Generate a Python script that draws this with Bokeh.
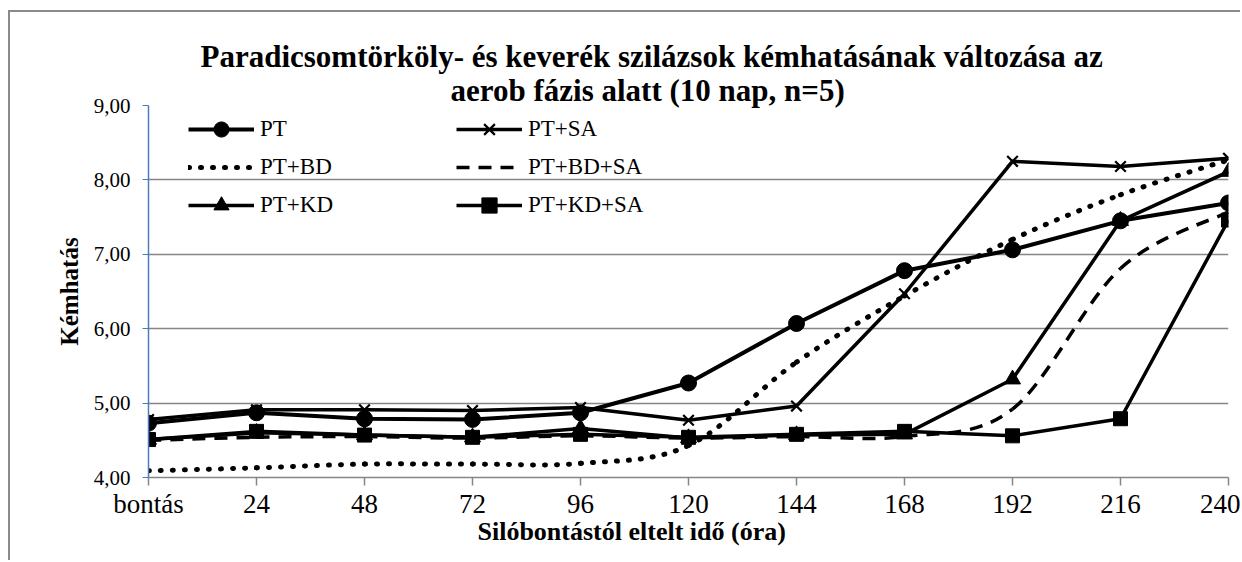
from bokeh.plotting import figure
from bokeh.models import Legend, LegendItem, Title, FixedTicker
from bokeh.embed import file_html
from bokeh.resources import INLINE
from bokeh.core.properties import value

# ---------------- data ----------------
hours = [0, 24, 48, 72, 96, 120, 144, 168, 192, 216, 240]
x_labels = ["bontás", "24", "48", "72", "96", "120", "144", "168", "192", "216", "240"]
y_ticks = [4, 5, 6, 7, 8, 9]

pt = [4.73, 4.87, 4.79, 4.78, 4.87, 5.27, 6.07, 6.78, 7.06, 7.45, 7.69]
pt_sa = [4.78, 4.91, 4.91, 4.90, 4.94, 4.77, 4.96, 6.47, 8.25, 8.18, 8.29]
pt_bd = [4.09, 4.13, 4.18, 4.18, 4.19, 4.43, 5.55, 6.44, 7.20, 7.80, 8.27]
pt_bd_sa = [4.50, 4.54, 4.55, 4.53, 4.56, 4.53, 4.55, 4.55, 4.92, 6.81, 7.57]
pt_kd = [4.51, 4.60, 4.57, 4.54, 4.66, 4.53, 4.57, 4.58, 5.32, 7.45, 8.11]
pt_kd_sa = [4.51, 4.62, 4.57, 4.54, 4.58, 4.54, 4.58, 4.62, 4.56, 4.79, 7.46]

title_1 = "Paradicsomtörköly- és keverék szilázsok kémhatásának változása az"
title_2 = "aerob fázis alatt (10 nap, n=5)"
x_title = "Silóbontástól eltelt idő (óra)"
y_title = "Kémhatás"

FONT = "Liberation Serif"
GRID = "#868686"
BLUE = "#4a7ebb"


def bezier_ctrl(xs, ys):
    """Control points for a smoothed (Excel-like) line through the data points."""
    n = len(xs)
    cx0, cy0, cx1, cy1 = [], [], [], []
    for i in range(n - 1):
        xm, ym = (xs[i - 1], ys[i - 1]) if i > 0 else (xs[i], ys[i])
        xp, yp = (xs[i + 2], ys[i + 2]) if i + 2 < n else (xs[i + 1], ys[i + 1])
        cx0.append(xs[i] + (xs[i + 1] - xm) / 6)
        cy0.append(ys[i] + (ys[i + 1] - ym) / 6)
        cx1.append(xs[i + 1] - (xp - xs[i]) / 6)
        cy1.append(ys[i + 1] - (yp - ys[i]) / 6)
    return dict(x0=xs[:-1], y0=ys[:-1], x1=xs[1:], y1=ys[1:],
                cx0=cx0, cy0=cy0, cx1=cx1, cy1=cy1)


p = figure(width=1232, height=550, output_backend="svg", toolbar_location=None,
           x_range=(0, 240), y_range=(4, 9),
           min_border_left=138, min_border_right=14, min_border_top=93, min_border_bottom=85,
           styles={"margin-left": "8px", "margin-top": "10px",
                   "border-left": "2px solid #8a8a8a", "border-top": "2px solid #8a8a8a"})
p.title = None
p.outline_line_color = None
p.background_fill_color = "white"
p.border_fill_color = "white"

# titles (line 2 is added first so it sits next to the plot area)
p.add_layout(Title(text=title_2, align="left", offset=302, standoff=-5,
                   text_font=FONT, text_font_size="31px", text_font_style="bold",
                   text_color="black"), "above")
p.add_layout(Title(text=title_1, align="left", offset=52, standoff=-1,
                   text_font=FONT, text_font_size="31px", text_font_style="bold",
                   text_color="black"), "above")

# grid
p.xgrid.grid_line_color = None
p.ygrid.grid_line_color = GRID
p.ygrid.grid_line_width = 1.5

# axes
p.xaxis.ticker = FixedTicker(ticks=hours)
p.xaxis.major_label_overrides = {h: lab for h, lab in zip(hours, x_labels)}
p.yaxis.ticker = FixedTicker(ticks=y_ticks)
p.yaxis.major_label_overrides = {v: f"{v:.2f}".replace(".", ",") for v in y_ticks}
for ax in (p.xaxis[0], p.yaxis[0]):
    ax.major_label_text_font = FONT
    ax.major_label_text_color = "black"
    ax.axis_label_text_font = FONT
    ax.axis_label_text_font_size = "25px"
    ax.axis_label_text_font_style = "bold"
    ax.axis_label_text_color = "black"
    ax.minor_tick_line_color = None
    ax.major_tick_in = 0
p.xaxis.major_label_text_font_size = "27px"
p.yaxis.major_label_text_font_size = "21px"
p.yaxis.axis_label = y_title
p.xaxis.axis_line_color = GRID
p.xaxis.axis_line_width = 1.5
p.xaxis.major_tick_line_color = GRID
p.xaxis.major_tick_line_width = 1.5
p.xaxis.major_tick_out = 8
p.xaxis.major_label_standoff = 3
p.yaxis.axis_line_color = BLUE
p.yaxis.axis_line_width = 1.5
p.yaxis.major_tick_line_color = BLUE
p.yaxis.major_tick_out = 6
p.yaxis.major_label_standoff = 12
p.yaxis.axis_label_standoff = 8

# x-axis title as a title below the axis (centred like the original, left of the frame centre)
p.add_layout(Title(text=x_title, align="left", offset=329, standoff=-10, vertical_align="top",
                   text_font=FONT, text_font_size="26px", text_font_style="bold",
                   text_color="black"), "below")

# series
r_pt_l = p.line(hours, pt, line_color="black", line_width=4)
r_pt_m = p.scatter(hours, pt, marker="circle", size=16, fill_color="black", line_color="black")

r_sa_l = p.line(hours, pt_sa, line_color="black", line_width=3.5)
r_sa_m = p.scatter(hours, pt_sa, marker="x", size=15, line_color="black", line_width=2.2)

r_bd = p.bezier(line_color="black", line_width=5, line_cap="round",
                line_dash=value("1 11"), **bezier_ctrl(hours, pt_bd))

r_bdsa = p.bezier(line_color="black", line_width=3.5, line_dash=value("13 9"),
                  **bezier_ctrl(hours, pt_bd_sa))

r_kd_l = p.line(hours, pt_kd, line_color="black", line_width=3.5)
r_kd_m = p.scatter(hours, pt_kd, marker="triangle", size=16, fill_color="black", line_color="black")

r_kdsa_l = p.line(hours, pt_kd_sa, line_color="black", line_width=3.5)
r_kdsa_m = p.scatter(hours, pt_kd_sa, marker="square", size=14, fill_color="black", line_color="black")

legend = Legend(items=[
    LegendItem(label="PT", renderers=[r_pt_l, r_pt_m]),
    LegendItem(label="PT+SA", renderers=[r_sa_l, r_sa_m]),
    LegendItem(label="PT+BD", renderers=[r_bd]),
    LegendItem(label="PT+BD+SA", renderers=[r_bdsa]),
    LegendItem(label="PT+KD", renderers=[r_kd_l, r_kd_m]),
    LegendItem(label="PT+KD+SA", renderers=[r_kdsa_l, r_kdsa_m]),
], orientation="horizontal", ncols=2, location=(40, 253),
    glyph_width=66, glyph_height=38, label_height=38, label_width=196,
    label_standoff=6, spacing=0, padding=0, margin=0,
    border_line_color=None, background_fill_alpha=0,
    label_text_font=FONT, label_text_font_size="23px", label_text_color="black")
p.add_layout(legend, "center")

open("out.html", "w").write(file_html(p, INLINE))
